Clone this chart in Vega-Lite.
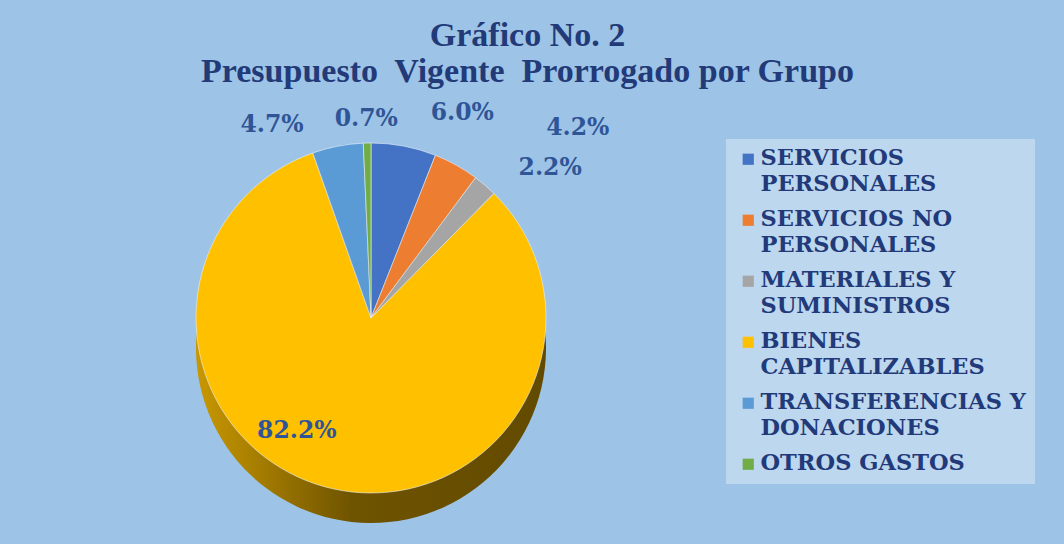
{
  "$schema": "https://vega.github.io/schema/vega-lite/v6.json",
  "autosize": {"type": "none"},
  "width": 702,
  "height": 358,
  "padding": {"left": 20, "top": 139, "right": 342, "bottom": 47},
  "background": "#9DC3E6",
  "config": {
    "view": {"stroke": null},
    "font": "DejaVu Serif",
    "style": {"guide-label": {"lineHeight": 26, "dy": -12}}
  },
  "title": {
    "text": ["Gráfico No. 2", "Presupuesto\u00a0 Vigente\u00a0 Prorrogado por Grupo"],
    "font": "Liberation Serif",
    "fontSize": 34,
    "fontWeight": "bold",
    "color": "#223A78",
    "lineHeight": 36,
    "anchor": "middle",
    "frame": "bounds",
    "offset": 0
  },
  "data": {
    "values": [
      {"n": 1, "grupo": "SERVICIOS PERSONALES", "share": 0.060},
      {"n": 2, "grupo": "SERVICIOS NO PERSONALES", "share": 0.042},
      {"n": 3, "grupo": "MATERIALES Y SUMINISTROS", "share": 0.022},
      {"n": 4, "grupo": "BIENES CAPITALIZABLES", "share": 0.822},
      {"n": 5, "grupo": "TRANSFERENCIAS Y DONACIONES", "share": 0.047},
      {"n": 6, "grupo": "OTROS GASTOS", "share": 0.007}
    ]
  },
  "encoding": {
    "theta": {"field": "share", "type": "quantitative", "stack": true},
    "order": {"field": "n", "type": "quantitative"},
    "detail": {"field": "grupo", "type": "nominal"}
  },
  "layer": [
    {
      "mark": {
        "type": "arc",
        "outerRadius": 175,
        "yOffset": 30,
        "color": {
          "gradient": "linear",
          "x1": 0, "y1": 0, "x2": 1, "y2": 0,
          "stops": [
            {"offset": 0, "color": "#C99800"},
            {"offset": 0.45, "color": "#6E5300"},
            {"offset": 1, "color": "#624A00"}
          ]
        }
      }
    },
    {
      "mark": {"type": "arc", "outerRadius": 175, "stroke": "#E8F0F8", "strokeWidth": 0.6},
      "encoding": {
        "color": {
          "field": "grupo",
          "type": "nominal",
          "scale": {
            "domain": ["SERVICIOS PERSONALES", "SERVICIOS NO PERSONALES", "MATERIALES Y SUMINISTROS", "BIENES CAPITALIZABLES", "TRANSFERENCIAS Y DONACIONES", "OTROS GASTOS"],
            "range": ["#4472C4", "#ED7D31", "#A5A5A5", "#FFC000", "#5B9BD5", "#70AD47"]
          },
          "legend": {
            "title": null,
            "orient": "right",
            "offset": 4,
            "padding": 9,
            "symbolOffset": 2,
            "fillColor": "#BDD7EE",
            "symbolType": "square",
            "symbolSize": 125,
            "symbolStrokeWidth": 0,
            "labelFont": "DejaVu Serif",
            "labelFontWeight": "bold",
            "labelFontSize": 22.5,
            "labelColor": "#223A7A",
            "labelLimit": 400,
            "labelOffset": 1,
            "labelBaseline": "top",
            "rowPadding": 12,
            "labelExpr": "datum.label === 'SERVICIOS PERSONALES' ? ['SERVICIOS','PERSONALES'] : datum.label === 'SERVICIOS NO PERSONALES' ? ['SERVICIOS NO','PERSONALES'] : datum.label === 'MATERIALES Y SUMINISTROS' ? ['MATERIALES Y','SUMINISTROS'] : datum.label === 'BIENES CAPITALIZABLES' ? ['BIENES','CAPITALIZABLES'] : datum.label === 'TRANSFERENCIAS Y DONACIONES' ? ['TRANSFERENCIAS Y','DONACIONES'] : datum.label"
          }
        }
      }
    },
    {
      "mark": {"type": "text", "radius": 215, "dx": 51, "dy": 6, "font": "DejaVu Serif", "fontWeight": "bold", "fontSize": 23.5, "color": "#2F5597"},
      "encoding": {"text": {"condition": {"test": "datum.grupo === 'SERVICIOS PERSONALES'", "field": "share", "type": "quantitative", "format": ".1%"}, "value": ""}}
    },
    {
      "mark": {"type": "text", "radius": 215, "dx": 102, "dy": -2, "font": "DejaVu Serif", "fontWeight": "bold", "fontSize": 23.5, "color": "#2F5597"},
      "encoding": {"text": {"condition": {"test": "datum.grupo === 'SERVICIOS NO PERSONALES'", "field": "share", "type": "quantitative", "format": ".1%"}, "value": ""}}
    },
    {
      "mark": {"type": "text", "radius": 215, "dx": 39, "dy": 13, "font": "DejaVu Serif", "fontWeight": "bold", "fontSize": 23.5, "color": "#2F5597"},
      "encoding": {"text": {"condition": {"test": "datum.grupo === 'MATERIALES Y SUMINISTROS'", "field": "share", "type": "quantitative", "format": ".1%"}, "value": ""}}
    },
    {
      "mark": {"type": "text", "radius": 120, "dx": -48, "dy": -4, "font": "DejaVu Serif", "fontWeight": "bold", "fontSize": 23.5, "color": "#2F5597"},
      "encoding": {"text": {"condition": {"test": "datum.grupo === 'BIENES CAPITALIZABLES'", "field": "share", "type": "quantitative", "format": ".1%"}, "value": ""}}
    },
    {
      "mark": {"type": "text", "radius": 215, "dx": -58, "dy": 18, "font": "DejaVu Serif", "fontWeight": "bold", "fontSize": 23.5, "color": "#2F5597"},
      "encoding": {"text": {"condition": {"test": "datum.grupo === 'TRANSFERENCIAS Y DONACIONES'", "field": "share", "type": "quantitative", "format": ".1%"}, "value": ""}}
    },
    {
      "mark": {"type": "text", "radius": 215, "dx": 0, "dy": 16, "font": "DejaVu Serif", "fontWeight": "bold", "fontSize": 23.5, "color": "#2F5597"},
      "encoding": {"text": {"condition": {"test": "datum.grupo === 'OTROS GASTOS'", "field": "share", "type": "quantitative", "format": ".1%"}, "value": ""}}
    }
  ]
}
